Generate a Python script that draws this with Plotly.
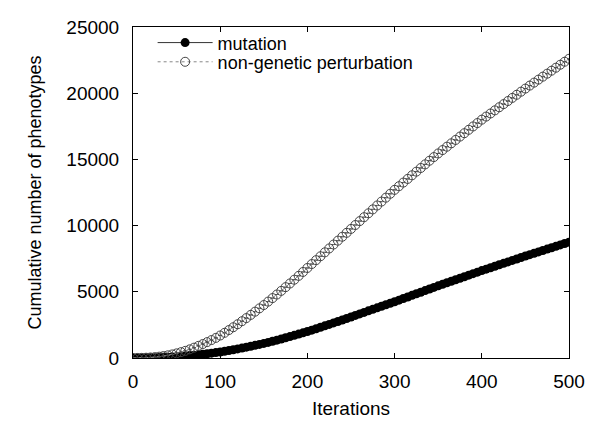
import plotly.graph_objects as go

iterations = list(range(0, 501, 5))

mutation = [
    0, 2, 5, 10, 16, 25, 35, 48, 62, 80,
    100, 125, 153, 183, 215, 250, 287, 325, 365, 406,
    450, 505, 563, 623, 685, 750, 817, 885, 955, 1027,
    1100, 1180, 1263, 1348, 1436, 1526, 1618, 1711, 1806, 1902,
    2000, 2105, 2211, 2319, 2428, 2538, 2648, 2759, 2871, 2985,
    3100, 3215, 3330, 3445, 3560, 3675, 3790, 3905, 4020, 4135,
    4250, 4370, 4490, 4610, 4730, 4850, 4970, 5090, 5210, 5330,
    5450, 5565, 5680, 5795, 5910, 6025, 6140, 6255, 6370, 6485,
    6600, 6710, 6820, 6930, 7040, 7150, 7260, 7370, 7480, 7590,
    7700, 7805, 7910, 8015, 8120, 8225, 8330, 8435, 8540, 8645,
    8750,
]

non_genetic = [
    0, 3, 10, 22, 40, 65, 100, 145, 200, 270,
    350, 440, 540, 655, 780, 915, 1055, 1200, 1355, 1520,
    1700, 1900, 2110, 2325, 2550, 2780, 3015, 3255, 3500, 3750,
    4000, 4260, 4525, 4795, 5070, 5350, 5630, 5915, 6205, 6500,
    6800, 7095, 7390, 7685, 7980, 8275, 8570, 8865, 9160, 9455,
    9750, 10045, 10340, 10635, 10930, 11225, 11520, 11815, 12110, 12405,
    12700, 12975, 13250, 13525, 13800, 14075, 14350, 14625, 14900, 15175,
    15450, 15705, 15960, 16215, 16470, 16725, 16980, 17235, 17490, 17745,
    18000, 18235, 18470, 18705, 18940, 19175, 19410, 19645, 19880, 20115,
    20350, 20575, 20800, 21025, 21250, 21475, 21700, 21925, 22150, 22375,
    22600,
]

x_ticks = [0, 100, 200, 300, 400, 500]
y_ticks = [0, 5000, 10000, 15000, 20000, 25000]

font = "Liberation Sans, Arial, sans-serif"

fig = go.Figure()
fig.add_trace(go.Scatter(
    x=iterations, y=mutation, name="mutation",
    mode="lines+markers",
    line=dict(color="#333333", width=1),
    marker=dict(symbol="circle", size=9, color="black"),
    legend="legend",
))
fig.add_trace(go.Scatter(
    x=iterations, y=non_genetic, name="non-genetic perturbation",
    mode="lines+markers",
    line=dict(color="#888888", width=1, dash="dot"),
    marker=dict(symbol="circle-open", size=9, color="#444444",
                line=dict(width=1, color="#444444")),
    error_y=dict(type="constant", value=0, width=2, thickness=1, color="#555555"),
    legend="legend2",
))

axis_common = dict(
    showline=True, linecolor="black", linewidth=1, mirror="ticks",
    ticks="inside", ticklen=5, tickcolor="black",
    showgrid=False, zeroline=False, automargin=False,
    tickfont=dict(family=font, size=19, color="black"),
)

legend_common = dict(
    x=0.045, xanchor="left", yanchor="middle",
    bgcolor="rgba(0,0,0,0)", font=dict(family=font, size=18),
    itemwidth=55,
)

# the page body adds an 8px offset, so the figure is drawn 8px smaller
fig.update_layout(
    width=592, height=415,
    margin=dict(l=125, r=31, t=19, b=65),
    paper_bgcolor="white", plot_bgcolor="white",
    font=dict(family=font, size=18, color="black"),
    xaxis=dict(range=[0, 500], tickvals=x_ticks, tickformat="d",
               ticklabelstandoff=6,
               title=dict(text="Iterations", font=dict(family=font, size=19), standoff=10),
               **axis_common),
    yaxis=dict(range=[0, 25000], tickvals=y_ticks, tickformat="d",
               ticklabelstandoff=9,
               title=dict(text="Cumulative number of phenotypes", font=dict(family=font, size=18), standoff=20),
               **axis_common),
    legend=dict(y=0.952, **legend_common),
    legend2=dict(y=0.894, **legend_common),
    showlegend=True,
)

fig.write_html("out.html")
